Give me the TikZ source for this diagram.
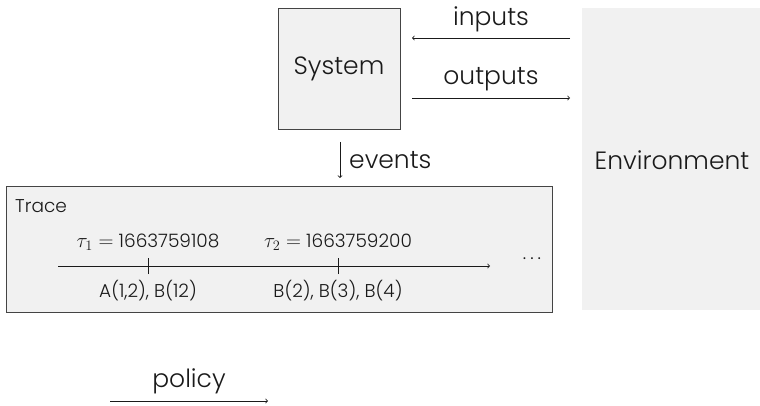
\documentclass[tikz,border=0pt]{standalone}
\usepackage{fontspec}
\setmainfont{Poppins}[UprightFont=* Light]
\definecolor{boxfill}{HTML}{F1F1F1}
\definecolor{boxline}{HTML}{444444}
\definecolor{ink}{HTML}{1A1A1A}
\newcommand{\mathbig}[1]{{\fontsize{22}{26}\selectfont$#1$}}
\begin{document}
\begin{tikzpicture}[x=1pt,y=-1pt,
  every node/.style={text=ink, inner sep=0pt},
  bigtext/.style={font=\fontsize{25}{30}\selectfont},
  smalltext/.style={font=\fontsize{18.5}{22}\selectfont},
  conn/.style={->, draw=ink, line width=0.8pt},
  box/.style={draw=boxline, fill=boxfill, line width=0.9pt}]
\useasboundingbox (0,0) rectangle (760,406);
% environment
\fill[boxfill] (582,8) rectangle (760,310);
\node[bigtext] (env) at (672,160) {Environment};
% system
\node[box, minimum width=122pt, minimum height=121pt, bigtext] (sys) at (339,68.5) {System};
% inputs / outputs
\coordinate (inR) at (570,38);
\coordinate (inL) at (412,38);
\coordinate (outL) at (412,98);
\coordinate (outR) at (570,98);
\draw[conn] (inR) -- (inL) node[midway, above=6pt, bigtext] (inlab) {inputs};
\draw[conn] (outL) -- (outR) node[midway, above=7pt, bigtext] (outlab) {outputs};
% trace box
\node[box, minimum width=546pt, minimum height=126pt] (trace) at (279,249) {};
\node[smalltext, anchor=west] (tracelab) at (15,206) {Trace};
% events
\coordinate (evT) at (340,142);
\coordinate (evB) at (340,178);
\draw[conn] (evT) -- (evB);
\node[bigtext, anchor=west] (evlab) at (349,160) {events};
% timeline
\coordinate (tl0) at (58,266);
\coordinate (tl1) at (490,266);
\draw[conn] (tl0) -- (tl1);
\coordinate (t1) at (148,266);
\coordinate (t2) at (338,266);
\draw[draw=ink, line width=0.8pt] ([yshift=-8pt]t1) -- ([yshift=8pt]t1);
\draw[draw=ink, line width=0.8pt] ([yshift=-8pt]t2) -- ([yshift=8pt]t2);
\node[smalltext] (tau1) at (148,242) {\mathbig{\tau_1 =} 1663759108};
\node[smalltext] (tau2) at (338,242) {\mathbig{\tau_2 =} 1663759200};
\node[smalltext] (ev1) at (148,291) {A(1,2), B(12)};
\node[smalltext] (ev2) at (338,291) {B(2), B(3), B(4)};
\node[smalltext] (dots) at (532,259) {.\hspace{4pt}.\hspace{4pt}.};
% policy
\coordinate (polL) at (110,401);
\coordinate (polR) at (268,401);
\draw[conn] (polL) -- (polR) node[midway, above=7pt, bigtext] (pollab) {policy};
\end{tikzpicture}
\end{document}
